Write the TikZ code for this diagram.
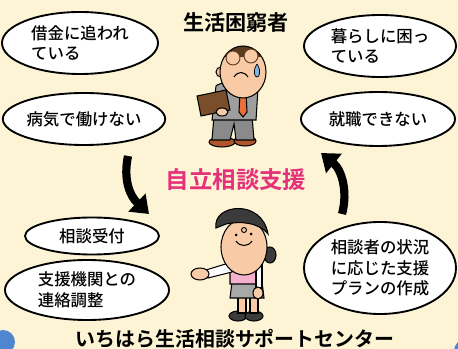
\documentclass[tikz,border=0pt]{standalone}
\usepackage{amsmath}
\usepackage{fontspec}
\setmainfont{Noto Sans CJK JP}[UprightFont=* Medium,BoldFont=* Bold]
\usetikzlibrary{shapes.geometric,arrows.meta}
\definecolor{paper}{HTML}{FCF4D4}
\definecolor{corner}{HTML}{4F86CF}
\definecolor{pinkred}{HTML}{E5317C}
\definecolor{skin}{HTML}{F8CBA6}
\definecolor{suit}{HTML}{9E9E9E}
\definecolor{trouser}{HTML}{8A8A8A}
\definecolor{shoe}{HTML}{B0562B}
\definecolor{case}{HTML}{7A4E2A}
\definecolor{hairbrown}{HTML}{5C3A1E}
\definecolor{tie}{HTML}{E8703A}
\definecolor{tear}{HTML}{7FB6E6}
\definecolor{vest}{HTML}{F4B0CC}
\definecolor{skirt}{HTML}{A8A8A8}
\definecolor{womanhair}{HTML}{3B3B3B}

\begin{document}
\begin{tikzpicture}[x=0.03cm,y=-0.03cm,
  bubble/.style={ellipse,draw,line width=1.6pt,fill=white,inner sep=0pt,align=left,
    font=\fontsize{14}{17.5}\selectfont},
  bigarrow/.style={line width=7pt,-{Triangle[length=0.5cm,width=0.72cm]}},
  outline/.style={draw=black,line width=0.9pt}]
\clip (0,0) rectangle (458,349);
\fill[paper] (0,0) rectangle (458,349);
\fill[corner] (3,342) circle (12);
\fill[corner] (466,351) circle (12);

\node[bubble,minimum width=4.68cm,minimum height=1.86cm] (debt) at (80,43) {借金に追われ\\ている};
\node[bubble,minimum width=4.74cm,minimum height=1.56cm] (ill) at (84,119) {病気で働けない};
\node[bubble,minimum width=4.56cm,minimum height=1.86cm] (living) at (380,46) {暮らしに困っ\\ている};
\node[bubble,minimum width=4.62cm,minimum height=1.62cm] (job) at (378,119) {就職できない};
\node[bubble,minimum width=4.02cm,minimum height=1.11cm] (intake) at (92,236) {相談受付};
\node[bubble,minimum width=4.92cm,minimum height=1.80cm] (liaison) at (87,290) {支援機関との\\連絡調整};
\node[bubble,minimum width=4.56cm,minimum height=2.76cm] (plan) at (380,268) {相談者の状況\\に応じた支援\\プランの作成};

\node[font=\fontsize{18}{20}\selectfont\bfseries] (needy) at (236,23) {生活困窮者};
\node[text=pinkred,font=\fontsize{20}{22}\selectfont\bfseries] (support) at (236,180) {自立相談支援};
\node[font=\fontsize{17}{19}\selectfont\bfseries] (center) at (235,339) {いちはら生活相談サポートセンター};

\coordinate (la) at (128,156);
\coordinate (lb) at (149,214);
\coordinate (ra) at (342,214);
\coordinate (rb) at (321,153);
\draw[bigarrow] (la) .. controls (123,180) and (130,196) .. (lb);
\draw[bigarrow] (ra) .. controls (348,192) and (342,170) .. (rb);

% man
\draw[outline,fill=shoe] (222,142) ellipse [x radius=13, y radius=5];
\draw[outline,fill=shoe] (245,141) ellipse [x radius=11, y radius=5];
\draw[outline,fill=trouser] (214,116) -- (252,116) -- (254,140) -- (236,140) -- (234,124) -- (230,140) -- (212,140) -- cycle;
\draw[outline,fill=suit] (216,86) .. controls (222,80) and (258,80) .. (258,88) -- (256,120) -- (212,120) -- cycle;
\draw[outline,fill=white] (234,86) -- (250,86) -- (243,100) -- cycle;
\draw[outline,fill=tie] (240,92) -- (246,92) -- (247,112) -- (243,117) -- (239,112) -- cycle;
\draw[outline,fill=case] (197,96) -- (226,90) -- (230,110) -- (201,116) -- cycle;
\draw[outline,fill=skin] (222,112) ellipse [x radius=6, y radius=4];
\draw[outline,fill=skin] (221,72) circle (5);
\fill[skin] (243,72) ellipse [x radius=23, y radius=26];
\begin{scope}
  \clip (243,72) ellipse [x radius=23, y radius=26];
  \fill[hairbrown] (215,40) rectangle (270,57);
\end{scope}
\draw[outline] (243,72) ellipse [x radius=23, y radius=26];
\draw[line width=0.8pt,draw=hairbrown,fill=skin] (233,58) circle (7) (251,56) circle (7);
\draw[line width=0.9pt] (234,77) .. controls (238,71) and (244,71) .. (248,77);
\draw[line width=0.6pt,fill=tear] (257,64) .. controls (252,72) and (255,77) .. (257,77) .. controls (259,77) and (262,72) .. (257,64);

% woman
\draw[outline,fill=womanhair] (238,316) ellipse [x radius=9, y radius=5];
\draw[outline,fill=womanhair] (254,316) ellipse [x radius=9, y radius=5];
\draw[outline,fill=skin] (238,296) rectangle (246,313);
\draw[outline,fill=skin] (250,296) rectangle (258,313);
\draw[outline,fill=skirt] (232,282) -- (262,282) -- (264,298) -- (230,298) -- cycle;
\draw[outline,fill=vest] (230,258) .. controls (236,254) and (256,254) .. (262,258) -- (262,284) -- (230,284) -- cycle;
\draw[outline,fill=white] (232,262) -- (206,270) -- (208,278) -- (232,272) -- cycle;
\draw[outline,fill=skin] (200,274) ellipse [x radius=9, y radius=6];
\draw[outline,fill=white] (256,260) -- (262,260) -- (262,288) -- (256,288) -- cycle;
\draw[outline,fill=skin] (258,293) ellipse [x radius=5, y radius=6];
\draw[outline,fill=womanhair] (270,255) ellipse [x radius=6, y radius=8];
\draw[outline,fill=skin] (244,247) ellipse [x radius=23, y radius=28];
\draw[outline,fill=womanhair] (216,228) .. controls (212,204) and (262,198) .. (268,234) .. controls (258,222) and (240,221) .. (226,224) -- cycle;
\fill (236,235) circle (1.5) (251,234) circle (1.5);
\draw[line width=0.8pt] (244,230) circle (2.5);
\draw[line width=0.9pt] (236,241) .. controls (240,247) and (248,247) .. (252,241);
\end{tikzpicture}
\end{document}
